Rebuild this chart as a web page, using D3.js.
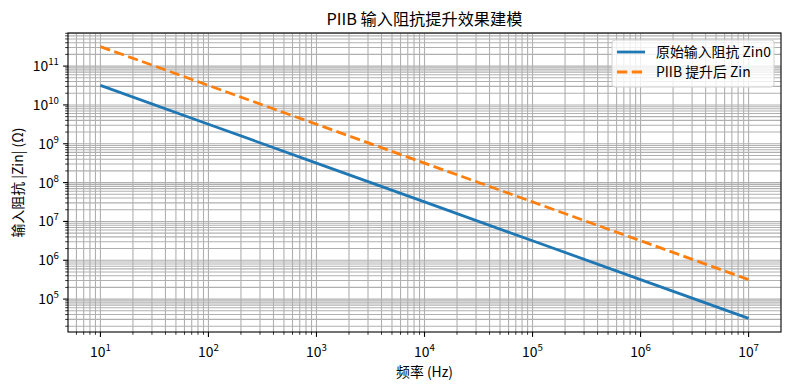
<!DOCTYPE html>
<html>
<head>
<meta charset="utf-8">
<script src="https://cdn.jsdelivr.net/npm/d3@7"></script>
<style>
  html, body { margin: 0; padding: 0; background: #fff; }
  svg { display: block; }
  text { font-family: "Noto Sans CJK SC", "Noto Sans", sans-serif; fill: #000; }
</style>
</head>
<body>
<svg id="chart" width="790" height="390"></svg>
<script>
// ---- data ----
const freqHz = [1e1, 1e2, 1e3, 1e4, 1e5, 1e6, 1e7];
const zin0 = [3.18e10, 3.18e9, 3.18e8, 3.18e7, 3.18e6, 3.18e5, 3.18e4];
const zinPiib = [3.18e11, 3.18e10, 3.18e9, 3.18e8, 3.18e7, 3.18e6, 3.18e5];
const seriesNames = ["原始输入阻抗 Zin0", "PIIB 提升后 Zin"];
const xTickExps = [1, 2, 3, 4, 5, 6, 7];
const yTickExps = [5, 6, 7, 8, 9, 10, 11];
const titleText = "PIIB 输入阻抗提升效果建模";
const xLabelText = "频率 (Hz)";
const yLabelText = "输入阻抗 |Zin| (Ω)";

// ---- layout ----
const svg = d3.select("#chart");
const L = 68, R = 781, T = 33, B = 332;

const xLogMin = Math.log10(d3.min(freqHz)), xLogMax = Math.log10(d3.max(freqHz));
const xPad = (xLogMax - xLogMin) * 0.05;
const allY = zin0.concat(zinPiib);
const yLogMin = Math.log10(d3.min(allY)), yLogMax = Math.log10(d3.max(allY));
const yPad = (yLogMax - yLogMin) * 0.05;

const x = d3.scaleLog().domain([10 ** (xLogMin - xPad), 10 ** (xLogMax + xPad)]).range([L, R]);
const y = d3.scaleLog().domain([10 ** (yLogMin - yPad), 10 ** (yLogMax + yPad)]).range([B, T]);

function minorTicks(scale) {
  const [a, b] = scale.domain();
  const out = [];
  for (let e = Math.floor(Math.log10(a)) - 1; e <= Math.ceil(Math.log10(b)); e++) {
    for (let k = 2; k <= 9; k++) {
      const v = k * 10 ** e;
      if (v >= a && v <= b) out.push(v);
    }
  }
  return out;
}
const xMajor = xTickExps.map(e => 10 ** e);
const yMajor = yTickExps.map(e => 10 ** e);
const xMinor = minorTicks(x);
const yMinor = minorTicks(y);

const gridColor = "#b0b0b0";
const grid = svg.append("g");
// minor then major grid
xMinor.concat(xMajor).forEach(v => {
  grid.append("line").attr("x1", x(v)).attr("x2", x(v)).attr("y1", T).attr("y2", B)
    .attr("stroke", gridColor).attr("stroke-width", 1.1);
});
yMinor.concat(yMajor).forEach(v => {
  grid.append("line").attr("x1", L).attr("x2", R).attr("y1", y(v)).attr("y2", y(v))
    .attr("stroke", gridColor).attr("stroke-width", 1.1);
});

// lines
const line = d3.line().x(d => x(d[0])).y(d => y(d[1]));
svg.append("path").datum(freqHz.map((f, i) => [f, zin0[i]]))
  .attr("d", line).attr("fill", "none").attr("stroke", "#1f77b4")
  .attr("stroke-width", 2.78).attr("stroke-linecap", "butt");
svg.append("path").datum(freqHz.map((f, i) => [f, zinPiib[i]]))
  .attr("d", line).attr("fill", "none").attr("stroke", "#ff7f0e")
  .attr("stroke-width", 2.78).attr("stroke-dasharray", "10.3,4.45");

// axes frame
svg.append("rect").attr("x", L).attr("y", T).attr("width", R - L).attr("height", B - T)
  .attr("fill", "none").attr("stroke", "#000").attr("stroke-width", 1.1);

// ticks
const ticks = svg.append("g").attr("stroke", "#000").attr("stroke-width", 1.1);
xMajor.forEach(v => ticks.append("line").attr("x1", x(v)).attr("x2", x(v)).attr("y1", B).attr("y2", B + 4.9));
xMinor.forEach(v => ticks.append("line").attr("x1", x(v)).attr("x2", x(v)).attr("y1", B).attr("y2", B + 2.8).attr("stroke-width", 0.8));
yMajor.forEach(v => ticks.append("line").attr("x1", L).attr("x2", L - 4.9).attr("y1", y(v)).attr("y2", y(v)));
yMinor.forEach(v => ticks.append("line").attr("x1", L).attr("x2", L - 2.8).attr("y1", y(v)).attr("y2", y(v)).attr("stroke-width", 0.8));

// tick labels with superscripts
function powLabel(g, e) {
  const t = g.append("text").attr("font-size", 13.9);
  t.append("tspan").text("10");
  t.append("tspan").attr("font-size", 9.7).attr("dy", -6).text(e);
  return t;
}
xTickExps.forEach(e => {
  const g = svg.append("g").attr("transform", `translate(${x(10 ** e)},${B + 25})`);
  powLabel(g, e).attr("text-anchor", "middle");
});
yTickExps.forEach(e => {
  const g = svg.append("g").attr("transform", `translate(${L - 9},${y(10 ** e) + 5})`);
  powLabel(g, e).attr("text-anchor", "end");
});

// title & labels
svg.append("text").attr("x", (L + R) / 2).attr("y", 25).attr("text-anchor", "middle")
  .attr("font-size", 16.2).text(titleText);
svg.append("text").attr("x", (L + R) / 2).attr("y", 377).attr("text-anchor", "middle")
  .attr("font-size", 13.9).text(xLabelText);
svg.append("text").attr("transform", `translate(23,${(T + B) / 2}) rotate(-90)`)
  .attr("text-anchor", "middle").attr("font-size", 13.9).text(yLabelText);

// legend
const lg = svg.append("g");
lg.append("rect").attr("x", 612).attr("y", 40).attr("width", 162).attr("height", 47)
  .attr("rx", 3).attr("fill", "#fff").attr("fill-opacity", 0.8)
  .attr("stroke", "#d0d0d0").attr("stroke-width", 1);
const legendColors = ["#1f77b4", "#ff7f0e"];
const legendDash = [null, "10.3,4.45"];
seriesNames.forEach((name, i) => {
  const yy = 52 + i * 20;
  lg.append("line").attr("x1", 617).attr("x2", 645).attr("y1", yy).attr("y2", yy)
    .attr("stroke", legendColors[i]).attr("stroke-width", 2.78)
    .attr("stroke-dasharray", legendDash[i]);
  lg.append("text").attr("x", 656).attr("y", yy + 5).attr("font-size", 13.9).text(name);
});
</script>
</body>
</html>
